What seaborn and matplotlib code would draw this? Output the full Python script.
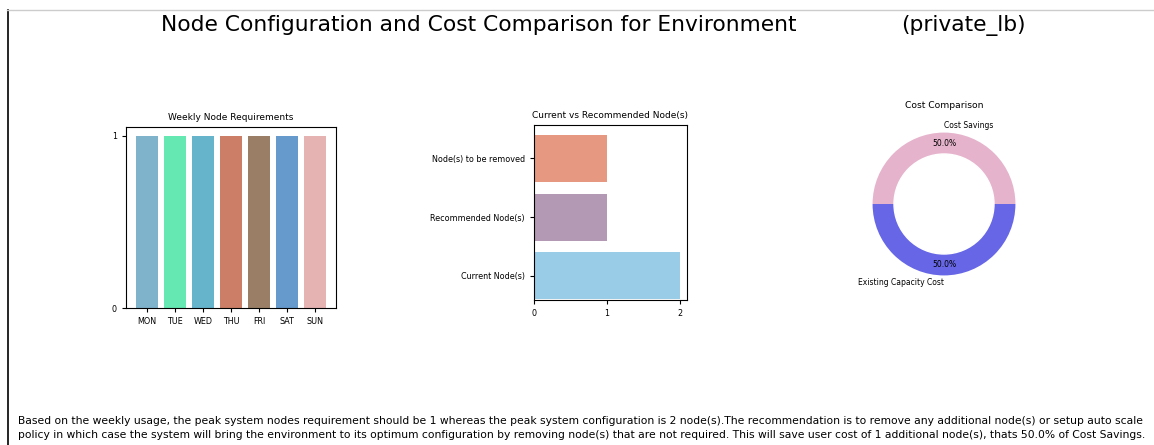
import matplotlib
matplotlib.use("Agg")
import matplotlib.pyplot as plt
import seaborn as sns
import pandas as pd
from matplotlib.lines import Line2D

# Weekly node requirement per day
days = ["MON", "TUE", "WED", "THU", "FRI", "SAT", "SUN"]
weekly_nodes = [1, 1, 1, 1, 1, 1, 1]
day_colors = ["#7fb3cc", "#66e8b2", "#66b3cc", "#cc7f66", "#9a7f66", "#6699cc", "#e6b3b3"]

# Current vs recommended node counts
node_labels = ["Current Node(s)", "Recommended Node(s)", "Node(s) to be removed"]
node_counts = [2, 1, 1]
node_colors = ["#99cce6", "#b399b3", "#e69980"]

# Cost split
cost_labels = ["Cost Savings", "Existing Capacity Cost"]
cost_values = [50.0, 50.0]
cost_colors = ["#e6b3cc", "#6666e6"]

env_name = "private_lb"

W, H = 1154, 445
fig = plt.figure(figsize=(W / 100, H / 100), dpi=100)


def box(x0, y0, x1, y1):
    return [x0 / W, 1 - y1 / H, (x1 - x0) / W, (y1 - y0) / H]


tick_fs = 5.8
title_fs = 6.5

# Weekly node requirements
ax1 = fig.add_axes(box(126, 127, 336, 308))
df_week = pd.DataFrame({"day": days, "nodes": weekly_nodes})
sns.barplot(data=df_week, x="day", y="nodes", hue="day", order=days,
            palette=dict(zip(days, day_colors)), legend=False, width=0.8,
            saturation=1, ax=ax1)
ax1.set_xlim(-0.75, 6.75)
ax1.set_ylim(0, 1.05)
ax1.set_yticks([0, 1])
ax1.set_xlabel("")
ax1.set_ylabel("")
ax1.set_title("Weekly Node Requirements", fontsize=title_fs, pad=5)
ax1.tick_params(labelsize=tick_fs, length=3)

# Current vs recommended
ax2 = fig.add_axes(box(534, 125, 687, 300))
df_nodes = pd.DataFrame({"label": node_labels, "count": node_counts})
order = node_labels[::-1]
sns.barplot(data=df_nodes, y="label", x="count", hue="label", order=order,
            palette=dict(zip(node_labels, node_colors)), legend=False,
            orient="h", width=0.8, saturation=1, ax=ax2)
ax2.set_xlim(0, 2.1)
ax2.set_ylim(2.41, -0.57)
ax2.set_xticks([0, 1, 2])
ax2.set_xlabel("")
ax2.set_ylabel("")
ax2.set_title("Current vs Recommended Node(s)", fontsize=title_fs, pad=5)
ax2.tick_params(labelsize=tick_fs, length=3)

# Cost comparison donut
ax3 = fig.add_axes(box(944 - 90, 204 - 90, 944 + 90, 204 + 90))
wedges, texts, autotexts = ax3.pie(
    cost_values, labels=cost_labels, colors=cost_colors, autopct="%1.1f%%",
    startangle=0, pctdistance=0.85, labeldistance=1.1,
    textprops={"fontsize": 5.5})
texts[0].set_ha("left")
texts[1].set_ha("right")
ax3.add_artist(plt.Circle((0, 0), 0.70, color="white"))
ax3.set_xlim(-1.26, 1.26)
ax3.set_ylim(-1.26, 1.26)
ax3.set_aspect("equal")
ax3.set_title("Cost Comparison", fontsize=6.6, pad=4)

# Headline
fig.text(479 / W, 1 - 25 / H, "Node Configuration and Cost Comparison for Environment",
         ha="center", va="center", fontsize=15.7)
fig.text(963 / W, 1 - 25 / H, f"({env_name})", ha="center", va="center", fontsize=15.7)

# Summary note
peak_req = max(weekly_nodes)
current = node_counts[0]
removed = node_counts[2]
savings = cost_values[0]
line1 = (f"Based on the weekly usage, the peak system nodes requirement should be {peak_req} "
         f"whereas the peak system configuration is {current} node(s).The recommendation is to "
         f"remove any additional node(s) or setup auto scale")
line2 = (f"policy in which case the system will bring the environment to its optimum "
         f"configuration by removing node(s) that are not required. This will save user cost "
         f"of {removed} additional node(s), thats {savings}% of Cost Savings.")
fig.text(18 / W, 1 - 421 / H, line1, ha="left", va="center", fontsize=7.75)
fig.text(18 / W, 1 - 435.5 / H, line2, ha="left", va="center", fontsize=7.75)

# Frame edges
fig.add_artist(Line2D([7.5 / W, 7.5 / W], [0, 1 - 10 / H], color="black", lw=1.2,
                      transform=fig.transFigure))
fig.add_artist(Line2D([7 / W, 1], [1 - 9.5 / H, 1 - 9.5 / H], color="#cccccc", lw=1,
                      transform=fig.transFigure))

fig.savefig("out.png", dpi=100)
